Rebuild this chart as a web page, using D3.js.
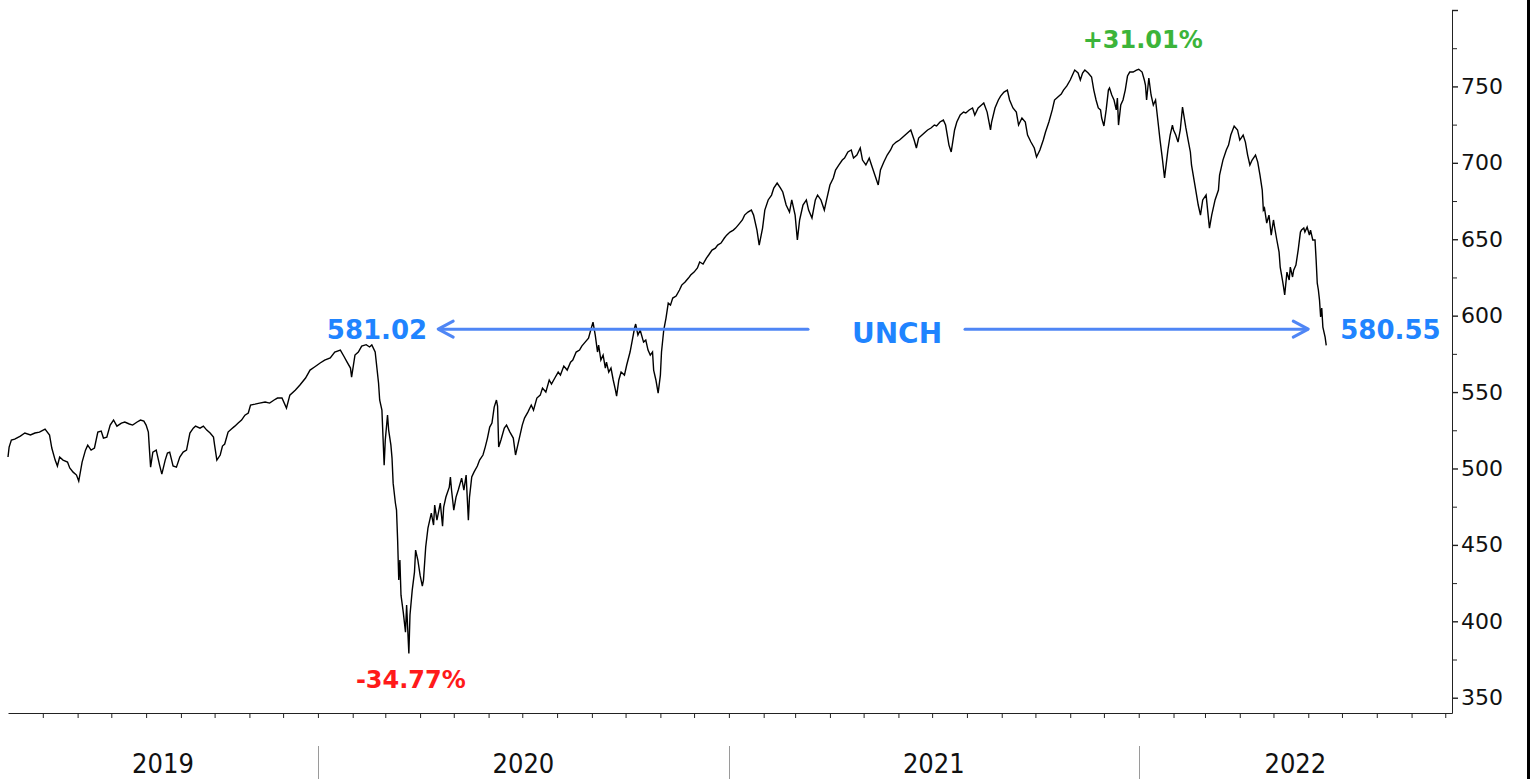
<!DOCTYPE html>
<html>
<head>
<meta charset="utf-8">
<script src="https://cdn.jsdelivr.net/npm/d3@7"></script>
<style>
    html, body { margin: 0; padding: 0; background: #fff; }
    svg { display: block; }
</style>
</head>
<body>
<svg id="chart" width="1530" height="779"></svg>
<script>
// index level (irregular sampling, denser around the big moves)
var dates = [
    "2019-03-31","2019-04-01","2019-04-03","2019-04-06","2019-04-11","2019-04-15","2019-04-20","2019-04-24","2019-04-28",
    "2019-05-03","2019-05-07","2019-05-09","2019-05-12","2019-05-14","2019-05-16","2019-05-19","2019-05-23","2019-05-25","2019-05-28","2019-05-31",
    "2019-06-02","2019-06-05","2019-06-08","2019-06-10","2019-06-13","2019-06-16","2019-06-19","2019-06-22","2019-06-24","2019-06-27","2019-06-30",
    "2019-07-03","2019-07-06","2019-07-10","2019-07-13","2019-07-17","2019-07-20","2019-07-24","2019-07-27","2019-07-30",
    "2019-08-01","2019-08-03","2019-08-04","2019-08-05","2019-08-07","2019-08-10","2019-08-12","2019-08-13","2019-08-15","2019-08-18","2019-08-20","2019-08-22","2019-08-25","2019-08-28","2019-08-31",
    "2019-09-03","2019-09-06","2019-09-09","2019-09-12","2019-09-14","2019-09-18","2019-09-21","2019-09-24","2019-09-27","2019-09-30",
    "2019-10-01","2019-10-03","2019-10-06","2019-10-08","2019-10-10","2019-10-13","2019-10-16","2019-10-19","2019-10-22","2019-10-25","2019-10-28","2019-10-31",
    "2019-11-02","2019-11-06","2019-11-10","2019-11-15","2019-11-19","2019-11-23","2019-11-26","2019-11-30",
    "2019-12-04","2019-12-07","2019-12-12","2019-12-16","2019-12-21","2019-12-25","2019-12-29",
    "2020-01-03","2020-01-07","2020-01-12","2020-01-16","2020-01-21","2020-01-24","2020-01-27","2020-01-30","2020-01-31",
    "2020-02-03","2020-02-06","2020-02-09","2020-02-13","2020-02-16","2020-02-18","2020-02-21","2020-02-24","2020-02-25","2020-02-27","2020-02-29",
    "2020-03-01","2020-03-03","2020-03-04","2020-03-06","2020-03-07","2020-03-08","2020-03-10","2020-03-11","2020-03-12","2020-03-13","2020-03-14",
    "2020-03-15","2020-03-17","2020-03-19","2020-03-20","2020-03-22","2020-03-23","2020-03-25","2020-03-27","2020-03-28","2020-03-30",
    "2020-04-01","2020-04-03","2020-04-04","2020-04-06","2020-04-08","2020-04-11","2020-04-13","2020-04-14","2020-04-16","2020-04-19","2020-04-21","2020-04-22","2020-04-24","2020-04-27","2020-04-28","2020-04-29",
    "2020-05-01","2020-05-03","2020-05-05","2020-05-07","2020-05-08","2020-05-10","2020-05-12","2020-05-14","2020-05-15","2020-05-17","2020-05-19","2020-05-22","2020-05-24","2020-05-27","2020-05-29","2020-05-31",
    "2020-06-02","2020-06-04","2020-06-06","2020-06-08","2020-06-09","2020-06-10","2020-06-12","2020-06-15","2020-06-17","2020-06-20","2020-06-23","2020-06-25","2020-06-28",
    "2020-07-01","2020-07-03","2020-07-06","2020-07-09","2020-07-11","2020-07-14","2020-07-17","2020-07-19","2020-07-22","2020-07-25","2020-07-27","2020-07-30",
    "2020-08-02","2020-08-04","2020-08-07","2020-08-10","2020-08-13","2020-08-15","2020-08-18","2020-08-21","2020-08-23","2020-08-26","2020-08-29","2020-08-31",
    "2020-09-02","2020-09-04","2020-09-06","2020-09-07","2020-09-09","2020-09-11","2020-09-13","2020-09-14","2020-09-16","2020-09-18","2020-09-20","2020-09-22","2020-09-23","2020-09-25","2020-09-27","2020-09-30",
    "2020-10-02","2020-10-05","2020-10-07","2020-10-09","2020-10-10","2020-10-12","2020-10-14","2020-10-16","2020-10-17","2020-10-19","2020-10-21","2020-10-23","2020-10-25","2020-10-26","2020-10-28","2020-10-30",
    "2020-11-01","2020-11-02","2020-11-04","2020-11-06","2020-11-08","2020-11-10","2020-11-12","2020-11-15","2020-11-18","2020-11-20","2020-11-23","2020-11-26","2020-11-28",
    "2020-12-01","2020-12-04","2020-12-06","2020-12-09","2020-12-12","2020-12-14","2020-12-17","2020-12-20","2020-12-22","2020-12-25","2020-12-28","2020-12-30",
    "2021-01-02","2021-01-05","2021-01-07","2021-01-10","2021-01-13","2021-01-15","2021-01-18","2021-01-21","2021-01-23","2021-01-26","2021-01-28","2021-01-31",
    "2021-02-02","2021-02-05","2021-02-08","2021-02-10","2021-02-13","2021-02-16","2021-02-18","2021-02-21","2021-02-24","2021-02-26",
    "2021-03-01","2021-03-03","2021-03-05","2021-03-08","2021-03-11","2021-03-13","2021-03-16","2021-03-19","2021-03-21","2021-03-24","2021-03-27","2021-03-29",
    "2021-04-01","2021-04-04","2021-04-06","2021-04-09","2021-04-12","2021-04-14","2021-04-17","2021-04-20","2021-04-22","2021-04-25","2021-04-28","2021-04-30",
    "2021-05-03","2021-05-06","2021-05-08","2021-05-11","2021-05-14","2021-05-16","2021-05-19","2021-05-22","2021-05-25","2021-05-27","2021-05-30",
    "2021-06-02","2021-06-04","2021-06-07","2021-06-10","2021-06-12","2021-06-15","2021-06-17","2021-06-19","2021-06-22","2021-06-25","2021-06-27","2021-06-30",
    "2021-07-03","2021-07-05","2021-07-08","2021-07-11","2021-07-13","2021-07-16","2021-07-18","2021-07-21","2021-07-23","2021-07-26","2021-07-29","2021-07-31",
    "2021-08-03","2021-08-06","2021-08-08","2021-08-11","2021-08-14","2021-08-16","2021-08-19","2021-08-22","2021-08-23","2021-08-26","2021-08-29","2021-08-31",
    "2021-09-03","2021-09-06","2021-09-08","2021-09-11","2021-09-14","2021-09-16","2021-09-19","2021-09-22","2021-09-24","2021-09-27","2021-09-30",
    "2021-10-02","2021-10-05","2021-10-08","2021-10-10","2021-10-13","2021-10-16","2021-10-18","2021-10-21","2021-10-24","2021-10-26","2021-10-29",
    "2021-11-01","2021-11-03","2021-11-05","2021-11-08","2021-11-10","2021-11-12","2021-11-14","2021-11-17","2021-11-20","2021-11-22","2021-11-24","2021-11-26","2021-11-28","2021-11-29",
    "2021-12-01","2021-12-03","2021-12-05","2021-12-06","2021-12-08","2021-12-10","2021-12-12","2021-12-13","2021-12-14","2021-12-16","2021-12-18","2021-12-20","2021-12-22","2021-12-24","2021-12-27","2021-12-30",
    "2022-01-01","2022-01-04","2022-01-06","2022-01-07","2022-01-08","2022-01-10","2022-01-12","2022-01-14","2022-01-16","2022-01-18","2022-01-20","2022-01-22","2022-01-24","2022-01-27","2022-01-29","2022-01-31",
    "2022-02-01","2022-02-03","2022-02-05","2022-02-07","2022-02-09","2022-02-12","2022-02-14","2022-02-16","2022-02-17","2022-02-20","2022-02-23","2022-02-25","2022-02-27",
    "2022-03-02","2022-03-05","2022-03-07","2022-03-10","2022-03-13","2022-03-14","2022-03-17","2022-03-20","2022-03-22","2022-03-24","2022-03-27","2022-03-30",
    "2022-04-01","2022-04-04","2022-04-06","2022-04-08","2022-04-10","2022-04-12","2022-04-15","2022-04-17","2022-04-19","2022-04-21","2022-04-22","2022-04-23","2022-04-25","2022-04-27","2022-04-29",
    "2022-05-01","2022-05-02","2022-05-04","2022-05-06","2022-05-07","2022-05-09","2022-05-10","2022-05-11","2022-05-13","2022-05-15","2022-05-16","2022-05-18","2022-05-19","2022-05-21","2022-05-23","2022-05-25","2022-05-26","2022-05-28","2022-05-29","2022-05-31",
    "2022-06-02","2022-06-03","2022-06-05","2022-06-07","2022-06-08","2022-06-09","2022-06-10","2022-06-11","2022-06-12","2022-06-13","2022-06-14","2022-06-16","2022-06-17"
];
var closes = [
    507.5, 514.0, 518.6, 519.2, 521.2, 523.2, 521.9, 523.2, 523.8,
    525.8, 521.9, 513.4, 505.5, 501.6, 507.5, 505.5, 504.2, 500.3, 497.6, 495.7,
    491.8, 504.2, 512.0, 515.3, 512.0, 513.4, 523.8, 524.5, 519.9, 520.5, 528.4,
    531.7, 527.7, 529.7, 530.4, 529.1, 528.4, 530.4, 531.7, 531.0,
    528.4, 523.8, 512.0, 500.9, 510.7, 512.0, 505.5, 502.2, 496.3, 505.5, 510.1, 510.7, 501.6, 500.9, 507.5,
    510.7, 512.0, 523.2, 526.4, 527.7, 526.4, 527.7, 525.1, 523.2, 520.5,
    515.3, 505.5, 508.8, 514.7, 516.0, 523.8, 525.8, 527.7, 529.7, 531.7, 534.9, 536.3,
    541.5, 542.1, 542.8, 543.5, 542.8, 544.8, 546.1, 546.1,
    539.5, 548.0, 551.3, 554.6, 559.2, 564.4, 566.4,
    569.0, 570.9, 572.3, 576.2, 577.5, 573.6, 569.6, 565.7, 559.8,
    574.2, 576.2, 580.1, 581.02, 579.5, 580.8, 576.2, 555.9, 544.8, 538.2, 502.2,
    518.6, 534.9, 525.1, 515.3, 506.8, 490.4, 477.4, 472.8, 453.1, 427.0, 440.1,
    417.1, 406.0, 392.9, 410.6, 379.0, 404.1, 420.4, 432.2, 446.6, 440.1,
    430.2, 423.0, 427.0, 448.6, 461.0, 470.8, 463.0, 476.0, 466.2, 477.4, 462.3, 474.7, 481.3, 487.8, 494.4, 485.9,
    472.8, 481.3, 485.9, 491.1, 493.7, 485.9, 495.7, 466.2, 481.3, 494.4, 497.6, 501.6, 505.5, 508.8, 514.0, 519.9,
    527.1, 529.7, 540.2, 544.8, 540.8, 514.0, 518.6, 526.4, 528.4, 523.8, 519.9, 508.8, 518.6,
    528.4, 533.0, 536.9, 541.5, 538.2, 546.1, 548.0, 552.6, 550.0, 557.9, 555.2, 559.2,
    563.1, 561.1, 567.0, 564.4, 569.6, 570.9, 576.2, 577.5, 580.1, 582.7, 585.3, 590.6,
    595.8, 587.3, 576.2, 580.8, 570.9, 574.2, 565.7, 569.6, 563.1, 565.7, 557.9, 551.3, 547.4, 557.9, 563.1, 561.1,
    567.7, 576.2, 584.0, 591.9, 594.5, 587.3, 590.6, 585.3, 582.7, 584.0, 577.5, 574.2, 576.2, 564.4, 557.9, 549.3,
    561.1, 576.2, 590.6, 598.4, 608.2, 606.9, 611.5, 612.8, 616.8, 620.0, 622.0, 624.6, 626.6,
    628.5, 631.2, 635.1, 633.8, 637.7, 639.7, 642.9, 644.2, 646.2, 647.5, 650.8, 652.7,
    654.7, 656.0, 657.3, 659.9, 662.6, 665.8, 667.8, 669.1, 665.8, 656.0, 646.2, 657.3,
    669.1, 675.7, 678.9, 683.5, 686.8, 683.5, 680.9, 672.4, 667.8, 675.7,
    665.8, 649.5, 662.6, 672.4, 675.7, 669.1, 663.9, 675.7, 678.9, 675.7, 669.1, 675.7,
    685.5, 690.1, 695.3, 698.6, 701.8, 703.1, 707.1, 708.4, 703.1, 705.1, 709.7, 701.8,
    698.6, 703.1, 698.6, 692.0, 685.5, 695.3, 700.5, 705.1, 708.4, 711.6, 713.6,
    714.9, 716.2, 718.2, 720.2, 721.5, 714.9, 709.7, 716.2, 718.2, 720.2, 721.5, 722.8,
    724.7, 724.1, 726.7, 728.0, 724.7, 711.6, 707.1, 721.5, 726.7, 731.3, 733.2, 732.6,
    734.6, 735.9, 731.3, 735.9, 737.8, 739.1, 733.2, 721.5, 726.7, 735.9, 741.1, 743.7,
    746.3, 747.6, 741.1, 735.9, 733.2, 724.7, 729.3, 726.7, 718.2, 713.6, 709.7,
    703.8, 708.4, 714.9, 720.2, 726.7, 734.6, 741.1, 743.1, 745.0, 747.6, 750.3,
    754.2, 757.5, 760.7, 758.8, 754.2, 758.8, 760.7, 758.8, 756.2, 747.6, 741.1, 735.9, 734.6, 729.3,
    724.1, 734.6, 747.6, 749.0, 744.4, 741.1, 734.6, 742.4, 724.7, 737.8, 741.1, 747.6, 756.8, 759.4, 759.4, 760.7,
    761.2, 759.4, 754.2, 750.9, 741.1, 755.5, 744.4, 737.8, 741.1, 728.0, 714.9, 703.1, 690.1, 708.4, 718.2, 724.7,
    721.5, 718.2, 713.6, 721.5, 736.5, 722.8, 714.9, 707.1, 698.6, 685.5, 672.4, 665.8, 675.7,
    678.9, 657.3, 665.8, 675.7, 682.2, 692.0, 701.8, 708.4, 711.6, 718.2, 724.1, 721.5,
    714.9, 718.2, 713.6, 705.1, 698.6, 701.8, 705.1, 700.5, 692.0, 682.2, 669.1, 670.4, 660.6, 665.8, 652.7,
    662.6, 658.0, 649.5, 641.6, 631.8, 623.3, 618.7, 613.5, 628.5, 623.3, 631.8, 625.3, 629.8, 633.1, 642.9, 654.7, 656.0, 657.3, 654.7, 658.0,
    652.7, 656.0, 649.5, 649.5, 636.4, 621.3, 616.8, 610.2, 599.1, 605.0, 592.5, 586.0, 580.55
];

// axis / label data
var yLabelTicks = [350, 400, 450, 500, 550, 600, 650, 700, 750, 800];
var yMinorTicks = [375, 425, 475, 525, 575, 625, 675, 725, 775];
var years = ["2019", "2020", "2021", "2022"];
var levelLabels = ["581.02", "580.55"];
var flatLabel = "UNCH";
var moveLabels = ["+31.01%", "-34.77%"];

var parseDate = d3.timeParse("%Y-%m-%d");
var series = dates.map(function (d, i) { return [parseDate(d), closes[i]]; });

var svg = d3.select("#chart");
var startDate = parseDate("2019-03-31"),
    endDate = parseDate("2022-10-07");

var x = d3.scaleTime().domain([startDate, endDate]).range([8, 1452]);
var y = d3.scaleLinear().domain([340, 800]).range([713, 10]);

// x轴: 月度刻度 (第一个月初刻度紧贴起点, 不画)
var monthTicks = d3.timeMonth.range(d3.timeDay.offset(startDate, 2), endDate);
var xAxis = svg.append("g")
    .attr("transform", "translate(0,713)")
    .call(d3.axisBottom(x).tickValues(monthTicks).tickSize(5).tickSizeOuter(0).tickFormat(""));
xAxis.select(".domain").attr("stroke", "#222");
xAxis.selectAll(".tick line").attr("stroke", "#222");

// year separators + labels
years.forEach(function (yr, i) {
    var y0 = d3.max([startDate, new Date(+yr, 0, 1)]);
    var y1 = d3.min([endDate, new Date(+yr + 1, 0, 1)]);
    if (i > 0) {
        svg.append("line")
            .attr("x1", Math.round(x(y0)) + 0.5).attr("x2", Math.round(x(y0)) + 0.5)
            .attr("y1", 746).attr("y2", 779)
            .attr("stroke", "#9a9a9a").attr("stroke-width", 1);
    }
    svg.append("text")
        .attr("x", (x(y0) + x(y1)) / 2)
        .attr("y", 773)
        .attr("text-anchor", "middle")
        .attr("font-family", "'DejaVu Sans Condensed', 'DejaVu Sans', sans-serif")
        .attr("font-size", 27)
        .attr("fill", "#111")
        .text(yr);
});

// y轴 (右侧)
var yAxis = svg.append("g")
    .attr("transform", "translate(1452,0)")
    .call(d3.axisRight(y).tickValues(yLabelTicks).tickSize(6).tickSizeOuter(0).tickPadding(3)
        .tickFormat(function (d) { return d === 800 ? "" : d; }));
yAxis.select(".domain").attr("stroke", "#222");
yAxis.selectAll(".tick line").attr("stroke", "#222").attr("stroke-width", 1.4);
yAxis.selectAll(".tick text")
    .attr("font-family", "'DejaVu Sans', Verdana, sans-serif")
    .attr("font-size", 22)
    .attr("fill", "#111");
svg.append("g")
    .attr("transform", "translate(1452,0)")
    .call(d3.axisRight(y).tickValues(yMinorTicks).tickSize(5).tickSizeOuter(0).tickFormat(""))
    .call(function (g) { g.select(".domain").remove(); g.selectAll(".tick line").attr("stroke", "#222"); });

// price line
var line = d3.line()
    .x(function (d) { return x(d[0]); })
    .y(function (d) { return y(d[1]); });
svg.append("path")
    .datum(series)
    .attr("d", line)
    .attr("fill", "none")
    .attr("stroke", "#000")
    .attr("stroke-width", 1.4)
    .attr("stroke-linejoin", "miter");

// annotations
var first = series[d3.maxIndex(series.slice(0, 120), function (d) { return d[1]; })];
var last = series[series.length - 1];
var low = series[d3.minIndex(series, function (d) { return d[1]; })];
var high = series[d3.maxIndex(series, function (d) { return d[1]; })];

var blueText = "#1f84ff", arrowBlue = "#4f86f5";
var arrowY = y(first[1]) - 15.5;
var leftTip = x(first[0]) + 72, rightTip = x(last[0]) - 18;

var boldFont = "'DejaVu Sans', Verdana, sans-serif";

svg.append("text")
    .attr("x", leftTip - 11).attr("y", arrowY + 10)
    .attr("text-anchor", "end")
    .attr("font-family", boldFont).attr("font-weight", "bold").attr("font-size", 26)
    .attr("fill", blueText)
    .text(levelLabels[0]);

svg.append("text")
    .attr("x", rightTip + 32).attr("y", arrowY + 10)
    .attr("text-anchor", "start")
    .attr("font-family", boldFont).attr("font-weight", "bold").attr("font-size", 26)
    .attr("fill", blueText)
    .text(levelLabels[1]);

svg.append("text")
    .attr("x", 897).attr("y", arrowY + 14)
    .attr("text-anchor", "middle")
    .attr("font-family", boldFont).attr("font-weight", "bold").attr("font-size", 28)
    .attr("fill", blueText)
    .text(flatLabel);

var arrows = svg.append("g")
    .attr("stroke", arrowBlue).attr("stroke-width", 3)
    .attr("fill", "none").attr("stroke-linecap", "round").attr("stroke-linejoin", "round");
// left arrow
arrows.append("line").attr("x1", 808).attr("x2", leftTip + 1).attr("y1", arrowY).attr("y2", arrowY);
arrows.append("polyline").attr("points", [[leftTip + 15, arrowY - 8], [leftTip, arrowY], [leftTip + 15, arrowY + 8]].join(" "));
// right arrow
arrows.append("line").attr("x1", 965).attr("x2", rightTip - 1).attr("y1", arrowY).attr("y2", arrowY);
arrows.append("polyline").attr("points", [[rightTip - 15, arrowY - 8], [rightTip, arrowY], [rightTip - 15, arrowY + 8]].join(" "));

svg.append("text")
    .attr("x", x(high[0]) + 4).attr("y", y(high[1]) - 21)
    .attr("text-anchor", "middle")
    .attr("font-family", boldFont).attr("font-weight", "bold").attr("font-size", 24)
    .attr("fill", "#3cb43a")
    .text(moveLabels[0]);

svg.append("text")
    .attr("x", x(low[0]) + 2).attr("y", y(low[1]) + 35)
    .attr("text-anchor", "middle")
    .attr("font-family", boldFont).attr("font-weight", "bold").attr("font-size", 24)
    .attr("fill", "#ff1a1a")
    .text(moveLabels[1]);

// right edge border
svg.append("rect").attr("x", 1527).attr("y", 0).attr("width", 3).attr("height", 779).attr("fill", "#000");
</script>
</body>
</html>
